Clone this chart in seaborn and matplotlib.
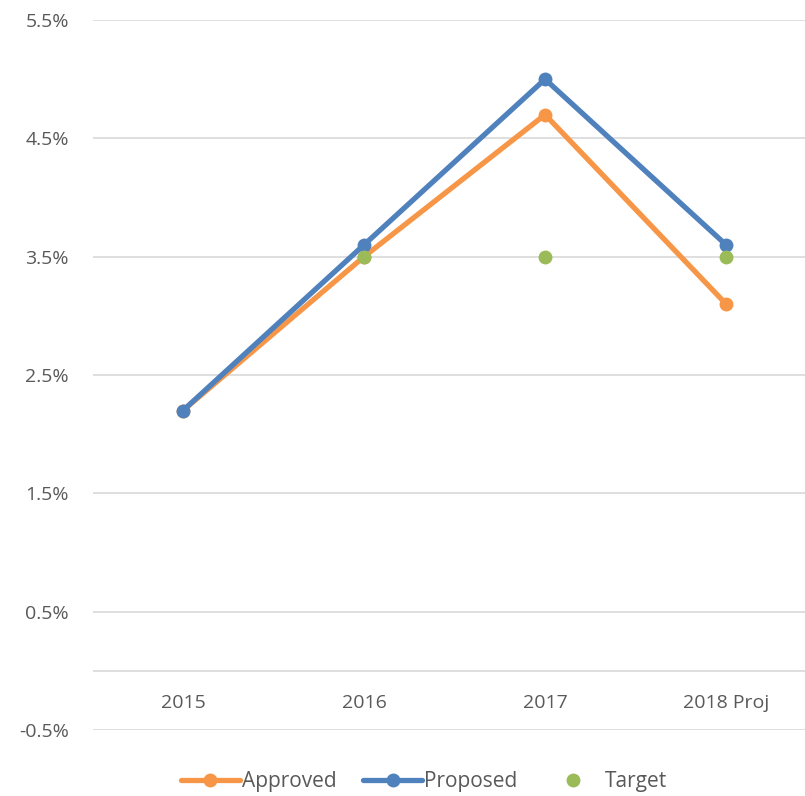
import numpy as np
import pandas as pd
import matplotlib
matplotlib.use("Agg")
import matplotlib.pyplot as plt
import seaborn as sns
from matplotlib.lines import Line2D
from matplotlib.ticker import FuncFormatter

# ======================
# DATA
# ======================
years = ["2015", "2016", "2017", "2018 Proj"]
approved = [2.2, 3.5, 4.7, 3.1]
proposed = [2.2, 3.6, 5.0, 3.6]
target = [np.nan, 3.5, 3.5, 3.5]

ORANGE = "#F79646"
BLUE = "#4F81BD"
GREEN = "#9BBB59"
GRID = "#D9D9D9"
TEXT = "#595959"

sns.set_theme(style="white")
plt.rcParams["font.family"] = ["Open Sans", "DejaVu Sans"]

df = pd.DataFrame({"x": range(len(years)), "Approved": approved,
                   "Proposed": proposed, "Target": target})

fig = plt.figure(figsize=(8.05, 7.96), dpi=100)
ax = fig.add_axes([92.5 / 805, 1 - 730 / 796, 1 - 92.5 / 805, 710 / 796])

sns.lineplot(data=df, x="x", y="Approved", ax=ax, color=ORANGE, lw=3.8,
             marker="o", markersize=10, markeredgewidth=0, zorder=3)
sns.lineplot(data=df, x="x", y="Proposed", ax=ax, color=BLUE, lw=3.8,
             marker="o", markersize=10, markeredgewidth=0, zorder=4)
sns.scatterplot(data=df, x="x", y="Target", ax=ax, color=GREEN, s=100,
                linewidth=0, zorder=5)

ax.set_xlim(-0.5, 3.436)
ax.set_ylim(-0.5, 5.5)
ax.set_yticks(np.arange(-0.5, 5.6, 1.0))
ax.yaxis.set_major_formatter(FuncFormatter(lambda v, p: f"{v:.1f}%"))
ax.grid(axis="y", color=GRID, lw=1.2)
ax.set_axisbelow(True)
ax.axhline(0, color=GRID, lw=1.2, zorder=1)
for s in ax.spines.values():
    s.set_visible(False)
ax.set_xlabel("")
ax.set_ylabel("")
ax.set_xticks([])
ax.tick_params(axis="y", length=0, pad=17, labelsize=14, labelcolor=TEXT)

for i, lab in enumerate(years):
    ax.text(i, 0.038, lab, transform=ax.get_xaxis_transform(),
            ha="center", va="center", fontsize=14, color=TEXT)

handles = [
    Line2D([], [], color=ORANGE, lw=3.8, marker="o", markersize=10, markeredgewidth=0),
    Line2D([], [], color=BLUE, lw=3.8, marker="o", markersize=10, markeredgewidth=0),
    Line2D([], [], color=GREEN, lw=0, marker="o", markersize=10, markeredgewidth=0),
]
fig.legend(handles, ["Approved", "Proposed", "Target"], loc="center",
           bbox_to_anchor=(424 / 805, 1 - 782 / 796), ncol=3, frameon=False,
           fontsize=15, labelcolor=TEXT, handlelength=2.8, handletextpad=0.1,
           columnspacing=1.3)

fig.savefig("out.png", dpi=100)
